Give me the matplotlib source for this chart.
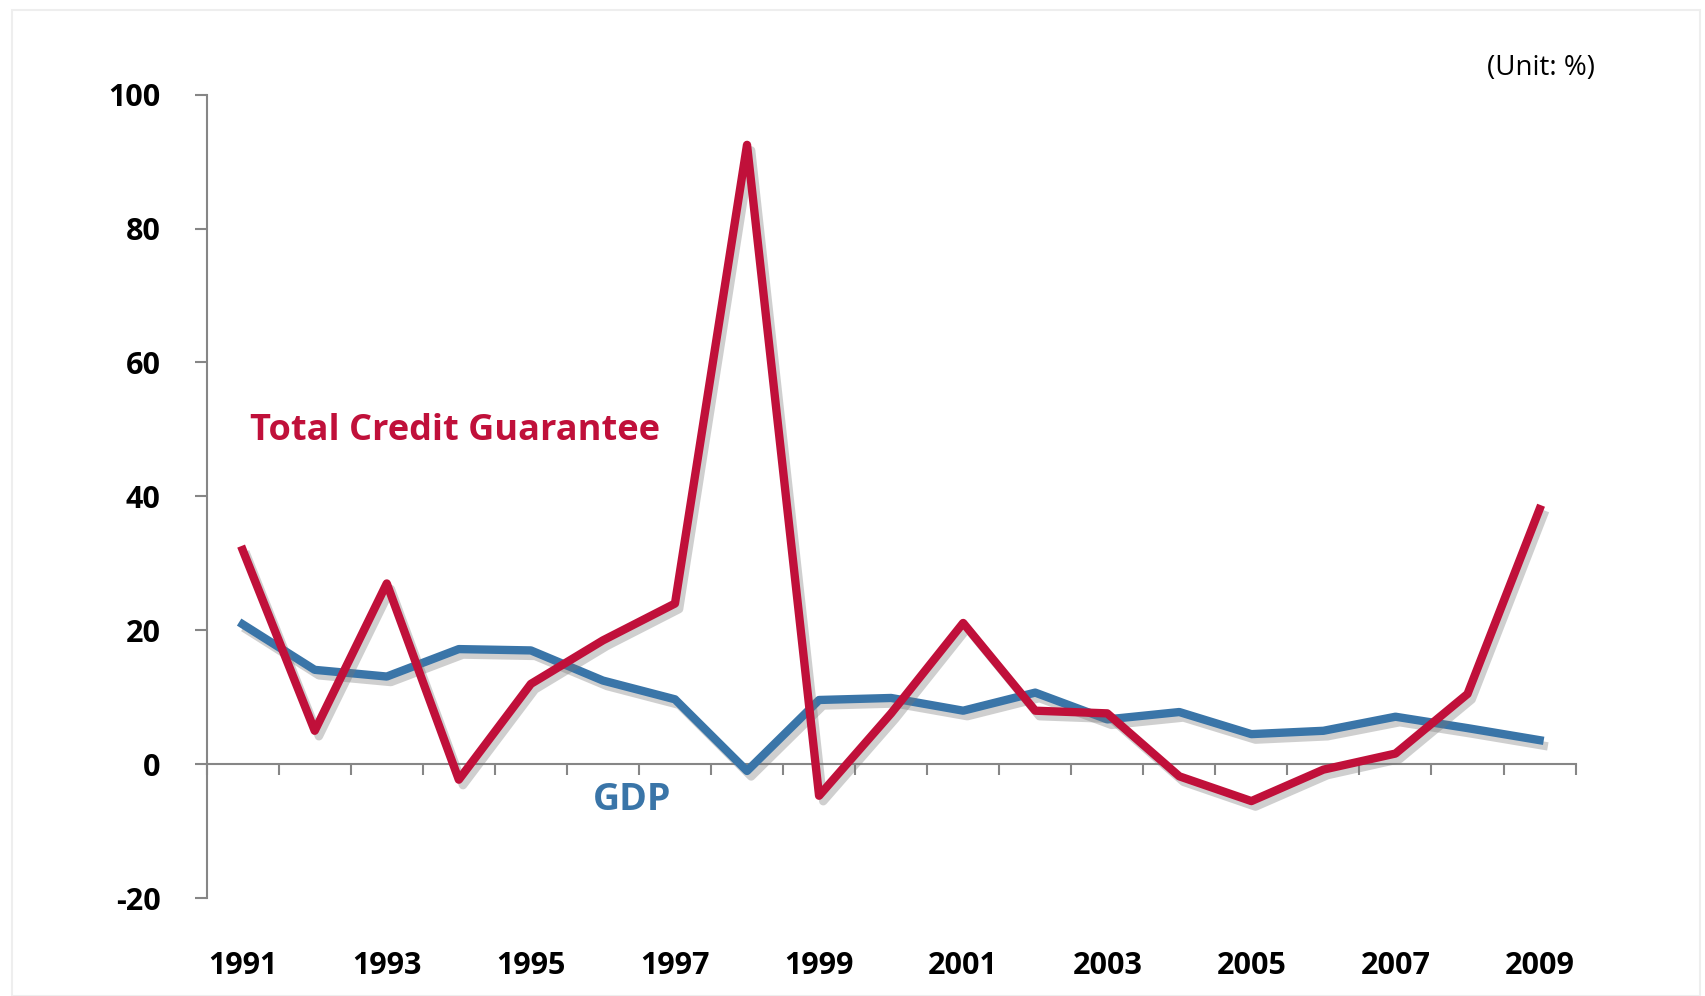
import numpy as np
import matplotlib
matplotlib.use("Agg")
import matplotlib.pyplot as plt
import matplotlib.patheffects as pe
from matplotlib.patches import Rectangle
from matplotlib import font_manager

years = list(range(1991, 2010))
credit_guarantee = [32, 5, 27, -2.3, 12, 18.5, 24, 92.5, -4.7, 7.6,
                    21.1, 8, 7.6, -1.8, -5.5, -0.8, 1.6, 10.5, 38.1]
gdp = [20.9, 14.1, 13.1, 17.2, 17.0, 12.5, 9.7, -1.0, 9.6, 9.9,
       8.0, 10.7, 6.7, 7.8, 4.5, 5.0, 7.1, 5.4, 3.6]
yticks = [-20, 0, 20, 40, 60, 80, 100]

red = "#C0103A"
blue = "#3A75A8"
axis_grey = "#868686"

# pick a family that really has a bold face installed
bold_fams = set()
for f in font_manager.fontManager.ttflist:
    w = f.weight if isinstance(f.weight, int) else 700 if "bold" in str(f.weight).lower() else 400
    if w >= 700:
        bold_fams.add(f.name)
family = "DejaVu Sans"
for cand in ["Noto Sans", "Open Sans", "Lato", "Roboto", "Inter", "Liberation Sans"]:
    if cand in bold_fams:
        family = cand
        break
plt.rcParams['font.family'] = [family, 'DejaVu Sans']

fig = plt.figure(figsize=(17.05, 9.96), dpi=100)
fig.patches.append(Rectangle((0.007, 0.0), 0.99, 0.99, transform=fig.transFigure,
                             fill=False, edgecolor="#eeeeee", linewidth=1.5))
ax = fig.add_axes([0.1212, 0.0982, 0.8029, 0.8068])

x = np.arange(1, len(years) + 1)
shadow = [pe.SimpleLineShadow(offset=(3, -4), shadow_color="#777777", alpha=0.35),
          pe.Normal()]
ax.plot(x, gdp, color=blue, lw=6, solid_joinstyle="round", path_effects=shadow, zorder=3)
ax.plot(x, credit_guarantee, color=red, lw=6, solid_joinstyle="round",
        path_effects=shadow, zorder=4)

ax.set_xlim(0.5, len(years) + 0.5)
ax.set_ylim(-20, 100)

for s in ["top", "right"]:
    ax.spines[s].set_visible(False)
ax.spines["left"].set_color(axis_grey)
ax.spines["left"].set_linewidth(1.5)
ax.spines["bottom"].set_position(("data", 0))
ax.spines["bottom"].set_color(axis_grey)
ax.spines["bottom"].set_linewidth(1.5)

ax.set_yticks(yticks)
ax.set_yticklabels([str(v) for v in yticks], fontsize=22, fontweight="bold")
ax.tick_params(axis="y", direction="out", length=9, width=1.5, color=axis_grey, pad=24)

ax.set_xticks(np.arange(0.5, len(years) + 1.5, 1))
ax.set_xticklabels([])
ax.tick_params(axis="x", direction="out", length=8, width=1.5, color=axis_grey)

sec = ax.secondary_xaxis("bottom")
sec.set_xticks(x[::2])
sec.set_xticklabels([str(y) for y in years[::2]], fontsize=22, fontweight="bold")
sec.tick_params(length=0, pad=38)
sec.spines["bottom"].set_visible(False)

ax.text(1.1, 49.8, "Total Credit Guarantee", color=red, fontsize=26,
        fontweight="bold", va="center", ha="left")
ax.text(6.4, -5.3, "GDP", color=blue, fontsize=27, fontweight="bold",
        va="center", ha="center")
fig.text(0.904, 0.932, "(Unit: %)", fontsize=20, ha="center", va="center")

fig.savefig("out.png", dpi=100)
plt.close(fig)
